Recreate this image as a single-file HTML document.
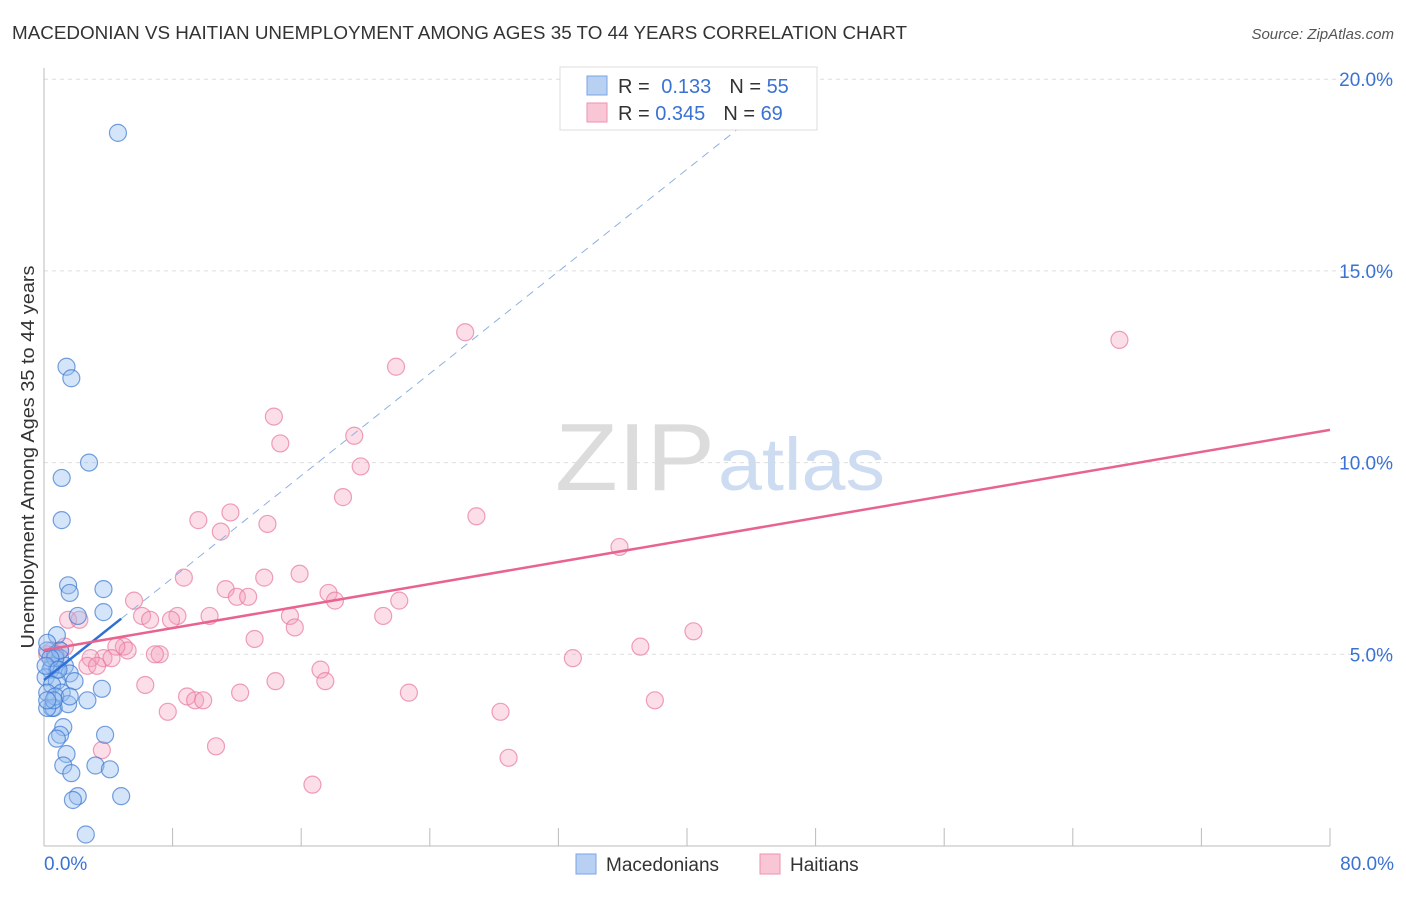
<!DOCTYPE html>
<html><head><meta charset="utf-8"><style>
body{margin:0;background:#fff;font-family:"Liberation Sans",sans-serif}
svg text{font-family:"Liberation Sans",sans-serif}
</style></head><body>
<svg id="chart" width="1406" height="892" xmlns="http://www.w3.org/2000/svg">
<text x="12" y="39" font-size="18" fill="#333" textLength="895" lengthAdjust="spacingAndGlyphs">MACEDONIAN VS HAITIAN UNEMPLOYMENT AMONG AGES 35 TO 44 YEARS CORRELATION CHART</text>
<text x="1394" y="39" font-size="15" fill="#555" text-anchor="end" font-style="italic">Source: ZipAtlas.com</text>
<text transform="translate(34,457) rotate(-90)" font-size="18" fill="#333" text-anchor="middle" textLength="383" lengthAdjust="spacingAndGlyphs">Unemployment Among Ages 35 to 44 years</text>
<g id="grid"></g>
<g id="axes"></g>
<text x="555" y="490" font-size="96" fill="#dcdcdc" font-family="Liberation Serif" textLength="160" lengthAdjust="spacingAndGlyphs">ZIP</text>
<text x="718" y="490" font-size="74" fill="#cddcf1" textLength="167" lengthAdjust="spacingAndGlyphs">atlas</text>
<g id="pts"></g>
<g id="lines"></g>
<g>
<rect x="560" y="67" width="257" height="63" fill="#fff" stroke="#ddd"/>
<rect x="587" y="76" width="20" height="19" fill="#b8d0f2" stroke="#7aa6e6"/>
<rect x="587" y="103" width="20" height="19" fill="#f9c6d6" stroke="#ef93b0"/>
<text x="618" y="93" font-size="20" fill="#333">R = <tspan fill="#3a72d4" dx="6">0.133</tspan><tspan fill="#333" dx="18">N = </tspan><tspan fill="#3a72d4">55</tspan></text>
<text x="618" y="120" font-size="20" fill="#333">R = <tspan fill="#3a72d4">0.345</tspan><tspan fill="#333" dx="18">N = </tspan><tspan fill="#3a72d4">69</tspan></text>
</g>
<g>
<rect x="576" y="854" width="20" height="20" fill="#b8d0f2" stroke="#7aa6e6"/>
<text x="606" y="871" font-size="19" fill="#333">Macedonians</text>
<rect x="760" y="854" width="20" height="20" fill="#f9c6d6" stroke="#ef93b0"/>
<text x="790" y="871" font-size="19" fill="#333">Haitians</text>
</g>
</svg>
<script>
const xTicks=[0,80];
const yTicks=[5,10,15,20];
const blueX=[4.6,1.4,1.7,2.8,1.1,1.1,1.5,1.6,3.7,2.1,3.7,0.8,0.2,0.7,1.0,0.5,1.3,0.8,0.4,1.6,0.1,1.9,0.8,0.5,1.1,0.2,3.6,2.7,1.5,0.5,0.6,0.2,1.2,1.0,3.8,0.8,1.4,1.2,3.2,4.1,1.7,2.1,1.8,4.8,2.6,0.7,1.0,0.4,0.1,0.2,0.7,1.6,0.6,0.2,0.9];
const blueY=[18.6,12.5,12.2,10.0,9.6,8.5,6.8,6.6,6.7,6.0,6.1,5.5,5.1,5.0,4.9,4.7,4.7,4.6,4.6,4.5,4.4,4.3,4.3,4.2,4.0,4.0,4.1,3.8,3.7,3.6,3.6,3.6,3.1,2.9,2.9,2.8,2.4,2.1,2.1,2.0,1.9,1.3,1.2,1.3,0.3,4.9,5.1,4.9,4.7,5.3,3.9,3.9,3.8,3.8,4.6];
const pinkX=[66.9,26.2,21.9,14.3,19.3,14.7,19.7,18.6,26.9,9.6,11.6,13.9,11.0,35.8,8.7,13.7,15.9,11.3,17.7,12.0,12.7,22.1,5.6,18.1,10.3,8.3,15.3,7.9,21.1,6.1,6.6,1.5,2.2,15.6,40.4,13.1,37.1,4.97,5.2,4.5,7.2,6.9,3.7,4.2,2.9,32.9,2.7,3.3,17.2,14.4,17.5,6.3,22.7,12.2,8.9,9.4,9.9,38.0,7.7,28.4,10.7,3.6,28.9,16.7,0.5,1.0,1.3,0.7,0.2];
const pinkY=[13.2,13.4,12.5,11.2,10.7,10.5,9.9,9.1,8.6,8.5,8.7,8.4,8.2,7.8,7.0,7.0,7.1,6.7,6.6,6.5,6.5,6.4,6.4,6.4,6.0,6.0,6.0,5.9,6.0,6.0,5.9,5.9,5.9,5.7,5.6,5.4,5.2,5.2,5.1,5.2,5.0,5.0,4.9,4.9,4.9,4.9,4.7,4.7,4.6,4.3,4.3,4.2,4.0,4.0,3.9,3.8,3.8,3.8,3.5,3.5,2.6,2.5,2.3,1.6,5.1,5.1,5.2,4.9,5.0];
const blueFit=[4.33,0.333];
const pinkFit=[5.11,0.0718];
const X0=44,X1=1330,Y0=846,YPX=191.7/5;
const sx=v=>X0+(v/80)*(X1-X0);
const sy=v=>Y0-v*YPX;
const NS='http://www.w3.org/2000/svg';
function mk(t,a,p){const e=document.createElementNS(NS,t);for(const k in a)e.setAttribute(k,a[k]);p.appendChild(e);return e;}
const grid=document.getElementById('grid'),axes=document.getElementById('axes');
yTicks.forEach(t=>{
 const l=mk('line',{x1:X0,x2:1394,y1:sy(t),y2:sy(t),stroke:'#ddd','stroke-dasharray':'4,4'},grid);
 
 
 const tx=mk('text',{x:1393,y:sy(t)+7,'font-size':19,fill:'#3a72d4','text-anchor':'end'},axes);
 tx.textContent=t.toFixed(1)+'%';
 
 
});
mk('line',{x1:X0,x2:X0,y1:68,y2:Y0,stroke:'#bbb'},axes);
mk('line',{x1:X0,x2:X1,y1:Y0,y2:Y0,stroke:'#bbb'},axes);
for(let i=1;i<=10;i++){const x=X0+i*(X1-X0)/10;mk('line',{x1:x,x2:x,y1:Y0-18,y2:Y0,stroke:'#bbb'},axes);}
xTicks.forEach((t,i)=>{
 const tx=mk('text',{x:i?1394:44,y:870,'font-size':19,fill:'#3a72d4','text-anchor':i?'end':'start'},axes);
 tx.textContent=t.toFixed(1)+'%';
 
 
});
const pts=document.getElementById('pts');
pinkX.forEach((x,i)=>{
 const c=mk('circle',{cx:sx(x),cy:sy(pinkY[i]),r:8.5,fill:'rgba(244,160,188,0.35)',stroke:'rgba(232,120,156,0.7)','stroke-width':1.2},pts);
 
 
});
blueX.forEach((x,i)=>{
 const c=mk('circle',{cx:sx(x),cy:sy(blueY[i]),r:8.5,fill:'rgba(150,190,240,0.4)',stroke:'rgba(60,120,210,0.7)','stroke-width':1.2},pts);
 
 
});
const lines=document.getElementById('lines');
const bMax=Math.max(...blueX);
const bEnd=(20-blueFit[0])/blueFit[1];
const d=mk('line',{x1:sx(bMax),y1:sy(blueFit[0]+blueFit[1]*bMax),x2:sx(bEnd),y2:sy(20),stroke:'#8fb0e0','stroke-width':1,'stroke-dasharray':'8,6'},lines);


const b=mk('line',{x1:sx(0),y1:sy(blueFit[0]),x2:sx(bMax),y2:sy(blueFit[0]+blueFit[1]*bMax),stroke:'#2f6fd6','stroke-width':2.5},lines);


const p=mk('line',{x1:sx(0),y1:sy(pinkFit[0]),x2:sx(80),y2:sy(pinkFit[0]+pinkFit[1]*80),stroke:'#e8638e','stroke-width':2.5},lines);


</script>
</body></html>
